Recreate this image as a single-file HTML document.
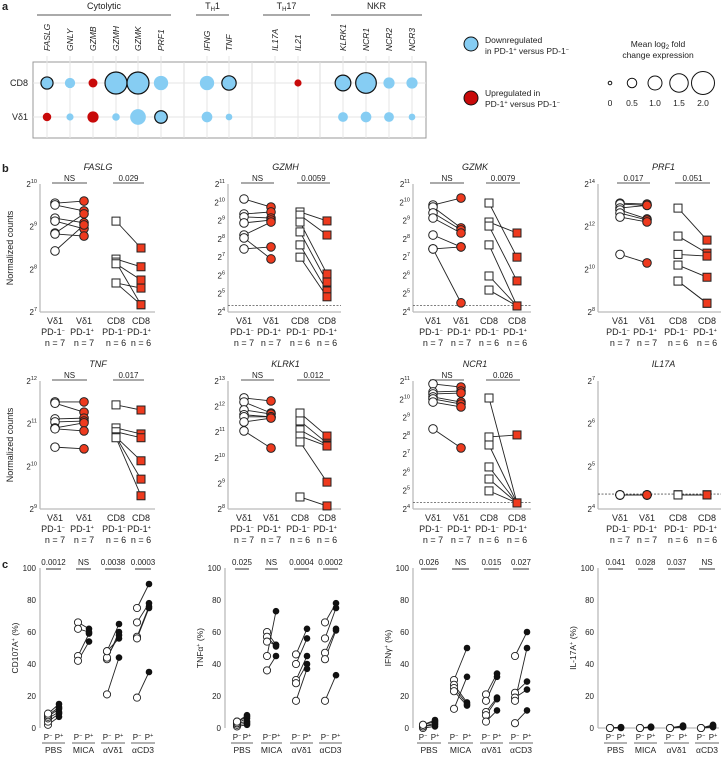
<!DOCTYPE html>
<html><head><meta charset="utf-8"><style>
body{margin:0;background:#fff;width:726px;height:757px;overflow:hidden}
svg{font-family:"Liberation Sans",sans-serif;fill:#222}
text{font-size:8.5px}
</style></head><body>
<svg id="fig" width="726" height="757" xmlns="http://www.w3.org/2000/svg">
<text x="2" y="10" style="font-size:11px;font-weight:bold">a</text>
<text x="2" y="172" style="font-size:11px;font-weight:bold">b</text>
<text x="2" y="568" style="font-size:11px;font-weight:bold">c</text>
<g id="ga"></g><g id="gb"></g><g id="gc"></g>
</svg>
<script>
// ---------- panel a data ----------
const genes=["FASLG","GNLY","GZMB","GZMH","GZMK","PRF1","IFNG","TNF","IL17A","IL21","KLRK1","NCR1","NCR2","NCR3"];
const cd8Size=[0.9,0.7,0.55,2.0,2.0,1.15,1.15,1.15,0,0.35,1.3,1.85,0.8,0.8];
const cd8Dir=["d","d","u","d","d","d","d","d","d","u","d","d","d","d"];
const cd8Sig=[1,0,0,1,1,0,0,1,0,0,1,1,0,0];
const vdSize=[0.5,0.35,0.8,0.4,1.3,0.95,0.75,0.3,0,0,0.65,0.75,0.65,0.3];
const vdDir=["u","d","u","d","d","d","d","d","d","d","d","d","d","d"];
const vdSig=[0,0,0,0,0,1,0,0,0,0,0,0,0,0];
const geneX=[47,70,93,116,138,161,207,229,275,298,343,366,389,412];
const NS="http://www.w3.org/2000/svg";
function el(p,t,a,txt){const e=document.createElementNS(NS,t);for(const k in a)e.setAttribute(k,a[k]);if(txt!==undefined)e.textContent=txt;p.appendChild(e);return e;}
const rScale=v=>v<=0?0:2+v*4.5;
const ga=document.getElementById('ga');
let box=el(ga,'rect',{x:33,y:62,width:393,height:76,fill:'#fff',stroke:'#999','stroke-width':1});


[184,252,320].forEach(x=>{let l=el(ga,'line',{x1:x,x2:x,y1:62,y2:138,stroke:'#ddd'});});
[83,117].forEach(y=>{let l=el(ga,'line',{x1:33,x2:426,y1:y,y2:y,stroke:'#e6e6e6'});});
genes.forEach((g,i)=>{
 let l=el(ga,'line',{x1:geneX[i],x2:geneX[i],y1:56,y2:138,stroke:'#e6e6e6'});
 
 let t=el(ga,'text',{transform:`translate(${geneX[i]+3},51) rotate(-90)`,'font-style':'italic'},g);
 
});
function dot(x,y,s,d,sig,nm){const r=rScale(s);if(!r)return;let c=el(ga,'circle',{cx:x,cy:y,r:r,fill:d==='u'?'#c80a0a':'#86cdf3',stroke:sig?'#111':'none','stroke-width':1.2});}
genes.forEach((g,i)=>{dot(geneX[i],83,cd8Size[i],cd8Dir[i],cd8Sig[i],'dot-cd8-'+g.toLowerCase());dot(geneX[i],117,vdSize[i],vdDir[i],vdSig[i],'dot-vd1-'+g.toLowerCase());});
let t1=el(ga,'text',{x:28,y:86,'text-anchor':'end',style:'font-size:9px'},'CD8');
let t2=el(ga,'text',{x:28,y:120,'text-anchor':'end',style:'font-size:9px'},'Vδ1');
const groups=[["Cytolytic",37,171],["T<tspan font-size='6' dy='2'>H</tspan><tspan dy='-2'>1</tspan>",196,229],["T<tspan font-size='6' dy='2'>H</tspan><tspan dy='-2'>17</tspan>",263,310],["NKR",331,422]];
groups.forEach(g=>{let t=el(ga,'text',{x:(g[1]+g[2])/2,y:9,'text-anchor':'middle',style:'font-size:9px'});t.innerHTML=g[0];
 let l=el(ga,'line',{x1:g[1],x2:g[2],y1:15,y2:15,stroke:'#555'});});
// legend
let lc1=el(ga,'circle',{cx:471,cy:44,r:7,fill:'#86cdf3',stroke:'#111'});
let lt1=el(ga,'text',{x:485,y:43,style:'font-size:8.5px'});lt1.innerHTML="Downregulated<tspan x='485' dy='11'>in PD-1<tspan font-size='5.5' dy='-3'>+</tspan><tspan dy='3'> versus PD-1</tspan><tspan font-size='5.5' dy='-3'>−</tspan></tspan>";
let lc2=el(ga,'circle',{cx:471,cy:98,r:7,fill:'#c80a0a',stroke:'#111'});
let lt2=el(ga,'text',{x:485,y:96,style:'font-size:8.5px'});lt2.innerHTML="Upregulated in<tspan x='485' dy='11'>PD-1<tspan font-size='5.5' dy='-3'>+</tspan><tspan dy='3'> versus PD-1</tspan><tspan font-size='5.5' dy='-3'>−</tspan></tspan>";
let lt3=el(ga,'text',{x:658,y:47,'text-anchor':'middle'});lt3.innerHTML="Mean log<tspan font-size='6' dy='2'>2</tspan><tspan dy='-2'> fold</tspan><tspan x='658' dy='11'>change expression</tspan>";
const sizeVals=[0,0.5,1.0,1.5,2.0],sizeLbl=["0","0.5","1.0","1.5","2.0"],sizeX=[610,632,655,679,703];
sizeVals.forEach((v,i)=>{let c=el(ga,'circle',{cx:sizeX[i],cy:83,r:v?rScale(v)+0.5:1.8,fill:'#fff',stroke:'#111'});
 let t=el(ga,'text',{x:sizeX[i],y:106,'text-anchor':'middle'},sizeLbl[i]);});

// ---------- panel b data (log2 values) ----------
const bTitles=["FASLG","GZMH","GZMK","PRF1","TNF","KLRK1","NCR1","IL17A"];
const bLo=[7,4,4,8,9,8,4,4];
const bHi=[10,11,11,14,12,13,11,7];
const bTickStep=[1,1,1,2,1,1,1,1];
const bP=["NS","NS","NS","0.017","NS","NS","NS",""];
const bP2=["0.029","0.0059","0.0079","0.051","0.017","0.012","0.026",""];
const bDotted=[null,4.35,4.35,null,null,null,4.35,4.35];
const vdNeg=[[9.55,9.51,9.2,9.13,8.85,8.83,8.43],[10.18,9.36,9.2,8.87,8.21,8.05,7.45],[9.85,9.74,9.42,9.14,8.21,7.45,7.45],[13.1,13.06,12.87,12.78,12.64,12.45,10.7],[11.51,11.48,11.11,11.04,10.9,10.88,10.45],[12.34,12.18,11.87,11.68,11.6,11.4,11.05],[10.84,10.4,10.29,10.13,10.02,9.85,8.38],[4.33,4.33,4.33,4.33,4.33,4.33,4.33]];
const vdPos=[[9.6,9.37,9.09,8.95,9.3,8.78,9.04],[9.74,9.47,9.14,9.03,8.92,6.9,7.56],[10.23,8.6,8.49,8.32,7.56,7.56,4.5],[13.06,13.0,13.0,12.36,12.31,12.22,10.3],[11.51,11.27,11.13,11.06,11.02,10.83,10.41],[12.22,11.75,11.71,11.6,11.6,11.55,10.38],[10.67,10.45,10.34,9.85,9.74,9.58,7.34],[4.33,4.33,4.33,4.33,4.33,4.33,4.33]];
const cdNeg=[[9.13,8.24,8.17,8.13,7.68,7.68],[9.47,9.3,8.92,8.38,7.67,7.0],[9.96,8.92,8.7,7.67,5.97,5.2],[12.87,11.56,10.7,10.2,9.45,9.45],[11.44,10.9,10.81,10.69,10.69,10.67],[11.75,11.44,11.09,10.85,10.62,8.47],[10.07,7.94,7.5,6.3,5.64,4.99],[4.33,4.33,4.33,4.33,4.33,4.33]];
const cdPos=[[8.5,8.06,7.17,7.75,7.17,7.56],[8.98,8.21,6.08,5.64,5.15,4.83],[7.0,8.32,5.7,4.33,4.33,4.33],[11.37,10.76,10.62,9.63,8.41,8.41],[11.32,10.76,10.67,10.13,9.7,9.31],[10.85,10.57,10.5,10.46,9.05,8.12],[4.33,8.05,4.33,4.33,4.33,4.33],[4.33,4.33,4.33,4.33,4.33,4.33]];
const bAxisX=[40,228,413,598];
const bCatX=[[55,84,116,141],[244,271,300,327],[433,461,489,517],[620,647,678,707]];
const bRowTop=[184,381],bRowBot=[312,509];
const gb=document.getElementById('gb');
bTitles.forEach((ti,p)=>{
 const col=p%4,row=Math.floor(p/4),ax=bAxisX[col],xs=bCatX[col],top=bRowTop[row],bot=bRowBot[row];
 const y=v=>bot-(v-bLo[p])/(bHi[p]-bLo[p])*(bot-top);
 const g=el(gb,'g',{});
 let t=el(g,'text',{x:(xs[0]+xs[3])/2,y:top-14,'text-anchor':'middle','font-style':'italic',style:'font-size:9px'},ti);
 let a=el(g,'line',{x1:ax,x2:ax,y1:top,y2:bot,stroke:'#bbb','stroke-width':1.3});
 let b=el(g,'line',{x1:ax,x2:xs[3]+14,y1:bot,y2:bot,stroke:'#bbb','stroke-width':1.3});
 for(let v=bLo[p];v<=bHi[p];v+=bTickStep[p]){let tt=el(g,'text',{x:ax-3,y:y(v)+3,'text-anchor':'end',style:'font-size:8px'});tt.innerHTML=`2<tspan font-size='5.5' dy='-4'>${v}</tspan>`;}
 if(bDotted[p]!==null){let d=el(g,'line',{x1:ax,x2:xs[3]+14,y1:y(bDotted[p]),y2:y(bDotted[p]),stroke:'#555','stroke-dasharray':'2,1.5','stroke-width':0.8});}
 [[bP[p],xs[0],xs[1]],[bP2[p],xs[2],xs[3]]].forEach(s=>{if(!s[0])return;let l=el(g,'line',{x1:s[1]-3,x2:s[2]+3,y1:top-1,y2:top-1,stroke:'#777','stroke-width':1.3});
  let lt=el(g,'text',{x:(s[1]+s[2])/2,y:top-3,'text-anchor':'middle',style:'font-size:8px'},s[0]);});
 const pairs=[[vdNeg[p],vdPos[p],xs[0],xs[1],'c'],[cdNeg[p],cdPos[p],xs[2],xs[3],'s']];
 pairs.forEach(pr=>{pr[0].forEach((v,i)=>{let l=el(g,'line',{x1:pr[2],x2:pr[3],y1:y(v),y2:y(pr[1][i]),stroke:'#222','stroke-width':0.9});});});
 pairs.forEach(pr=>{[[pr[0],pr[2],'#fff'],[pr[1],pr[3],'#ee3a1e']].forEach(set=>{set[0].forEach(v=>{let m;if(pr[4]==='c')m=el(g,'circle',{cx:set[1],cy:y(v),r:4.3,fill:set[2],stroke:'#222','stroke-width':1});else m=el(g,'rect',{x:set[1]-4,y:y(v)-4,width:8,height:8,fill:set[2],stroke:'#222','stroke-width':1});});});});
 const l1=["Vδ1","Vδ1","CD8","CD8"],sg=["−","+","−","+"],nn=["7","7","6","6"];
 xs.forEach((x,i)=>{let tt=el(g,'text',{x:x,y:bot+12,'text-anchor':'middle',style:'font-size:9px'});tt.innerHTML=`${l1[i]}<tspan x='${x-2}' dy='11'>PD-1</tspan><tspan font-size='5.5' dy='-3'>${sg[i]}</tspan><tspan x='${x}' dy='14'>n = ${nn[i]}</tspan>`;});
 if(col===0){let yt=el(g,'text',{transform:`translate(13,${(top+bot)/2}) rotate(-90)`,'text-anchor':'middle',style:'font-size:9px'},'Normalized counts');}
});

// ---------- panel c data (%) ----------
const cTitles=["CD107A","TNFα","IFNγ","IL-17A"];
const cGroups=["PBS","MICA","αVδ1","αCD3"];
const cPvals=[["0.0012","NS","0.0038","0.0003"],["0.025","NS","0.0004","0.0002"],["0.026","NS","0.015","0.027"],["0.041","0.028","0.037","NS"]];
const cNeg=[[[2,4,6,7,8,9],[66,62,45,42],[48,43,44,48,21],[75,66,57,56,19]],[[1,2,3,3,4,4],[60,57,54,45,36],[46,40,30,28,17],[66,56,47,43,17]],[[0,1,1,2,2],[30,27,25,23,12],[21,17,10,8,4],[45,22,19,17,3]],[[0,0,0,0],[0,0,0,0],[0,0,0,0],[0,0,0,0]]];
const cPos=[[[7,9,10,12,13,15],[62,60,59,54],[65,60,58,56,44],[90,78,76,75,35]],[[2,3,4,6,7,8],[52,51,52,73,45],[62,56,45,40,37],[78,75,62,61,33]],[[1,2,3,4,5],[50,16,15,14,32],[34,32,19,18,11],[60,29,24,50,11]],[[0,0.5,0.5,0.3],[0.5,0.8,0.3,0.6],[1,1.5,0.5,0.8],[1.5,2,0.5,1]]];
const cAxisX=[40,225,413,598];
const cX=[[48,59,78,89,107,119,137,149],[237,247,267,276,296,307,325,336],[423,435,454,467,486,497,515,527],[610,621,640,651,670,683,701,713]];
const cTop=568,cBot=728;
const gc=document.getElementById('gc');
cTitles.forEach((ti,p)=>{
 const ax=cAxisX[p],xs=cX[p],y=v=>cBot-v/100*(cBot-cTop);
 const g=el(gc,'g',{});
 let a=el(g,'line',{x1:ax,x2:ax,y1:cTop,y2:cBot,stroke:'#bbb','stroke-width':1.3});
 if(p===3){let b=el(g,'line',{x1:ax,x2:xs[7]+6,y1:cBot,y2:cBot,stroke:'#bbb','stroke-width':1.3});}
 for(let v=0;v<=100;v+=20){let tt=el(g,'text',{x:ax-4,y:y(v)+3,'text-anchor':'end',style:'font-size:8px'},String(v));}
 let yt=el(g,'text',{transform:`translate(${ax-22},${(cTop+cBot)/2}) rotate(-90)`,'text-anchor':'middle',style:'font-size:8.5px'});yt.innerHTML=`${ti}<tspan font-size='5.5' dy='-3'>+</tspan><tspan dy='3'> (%)</tspan>`;
 cGroups.forEach((gn,k)=>{const x0=xs[2*k],x1=xs[2*k+1];
  let pl=el(g,'line',{x1:x0-2,x2:x1+2,y1:569,y2:569,stroke:'#777','stroke-width':1.5});
  let pt=el(g,'text',{x:(x0+x1)/2,y:565,'text-anchor':'middle',style:'font-size:8px'},cPvals[p][k]);
  cNeg[p][k].forEach((v,i)=>{let l=el(g,'line',{x1:x0,x2:x1,y1:y(v),y2:y(cPos[p][k][i]),stroke:'#222','stroke-width':0.9});});
  cNeg[p][k].forEach(v=>{let m=el(g,'circle',{cx:x0,cy:y(v),r:3.6,fill:'#fff',stroke:'#222','stroke-width':0.9});});
  cPos[p][k].forEach(v=>{let m=el(g,'circle',{cx:x1,cy:y(v),r:3.3,fill:'#111'});});
  let t1=el(g,'text',{x:x0,y:740,'text-anchor':'middle',style:'font-size:8px'});t1.innerHTML="P<tspan font-size='5.5' dy='-3'>−</tspan>";
  let t2=el(g,'text',{x:x1,y:740,'text-anchor':'middle',style:'font-size:8px'});t2.innerHTML="P<tspan font-size='5.5' dy='-3'>+</tspan>";
  let ul=el(g,'line',{x1:x0-6,x2:x1+6,y1:743,y2:743,stroke:'#333','stroke-width':0.8});
  let gt=el(g,'text',{x:(x0+x1)/2,y:753,'text-anchor':'middle',style:'font-size:8.5px'},gn);
 });
});
</script>
</body></html>
